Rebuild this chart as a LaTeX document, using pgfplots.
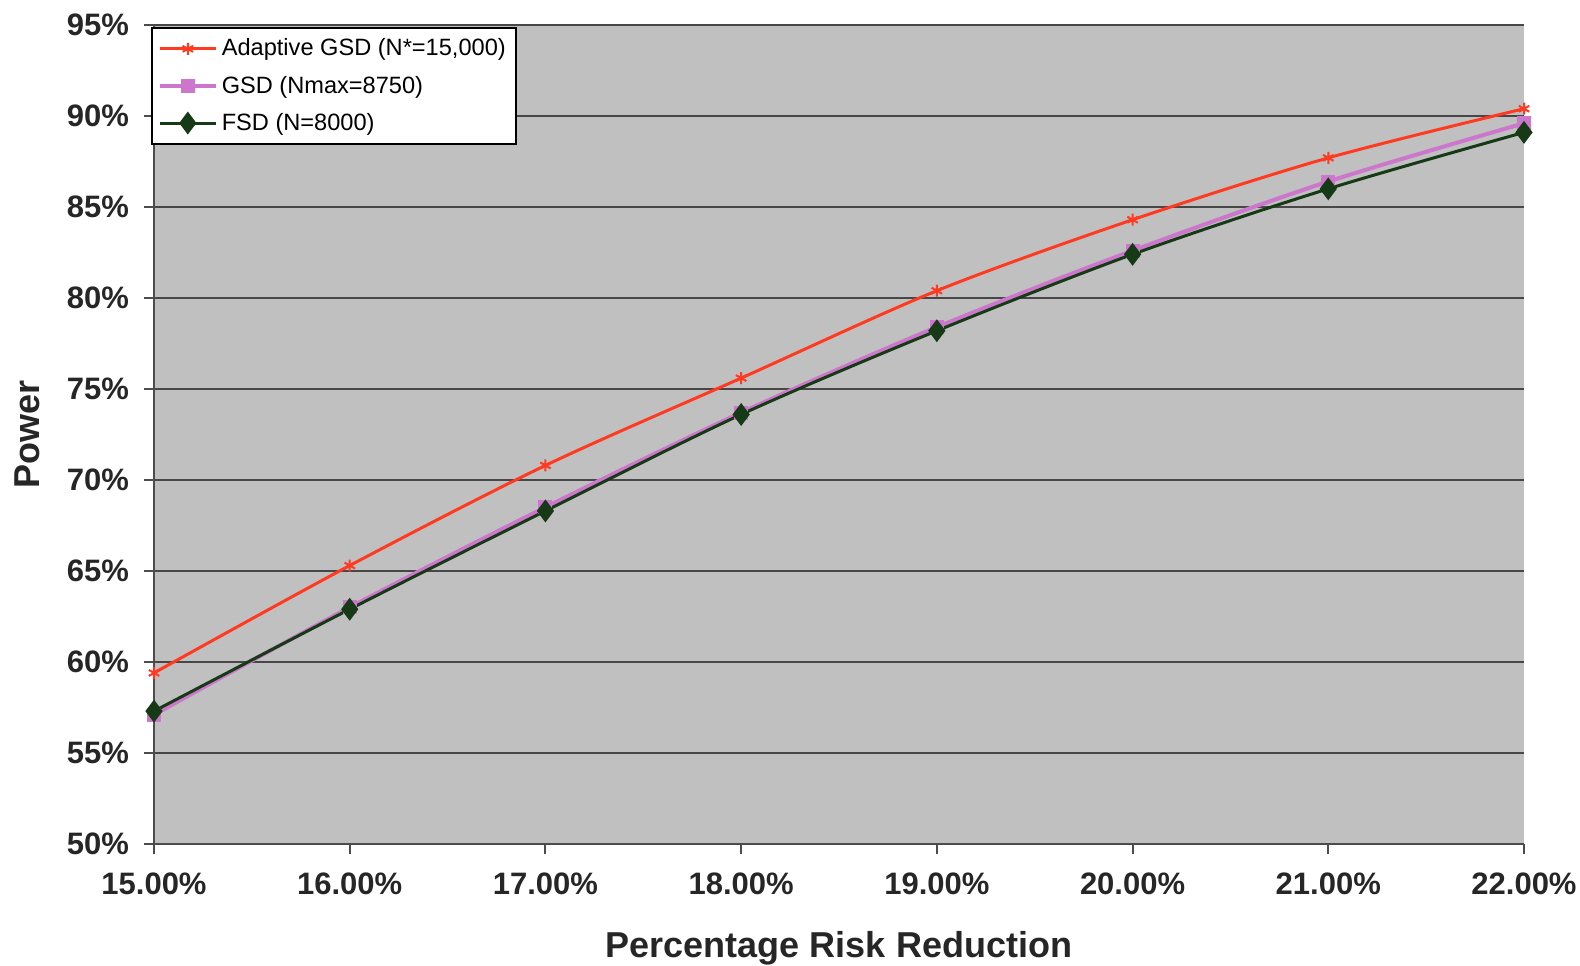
\documentclass[border=0pt]{standalone}
\usepackage{fontspec}
\setmainfont{Liberation Sans}
\usepackage{pgfplots}
\pgfplotsset{compat=1.18}
\definecolor{plotgray}{HTML}{C0C0C0}
\definecolor{adred}{HTML}{FF3A20}
\definecolor{gsdpink}{HTML}{CC77CC}
\definecolor{fsdgreen}{HTML}{163A16}
\begin{document}
\begin{tikzpicture}[x=1pt,y=1pt]
\useasboundingbox (0,0) rectangle (790,482.5);
\begin{axis}[
  at={(77pt,60.5pt)}, anchor=south west,
  scale only axis, width=685pt, height=409.5pt,
  xmin=15, xmax=22, ymin=50, ymax=95,
  xtick={15,16,...,22}, ytick={50,55,...,95},
  /pgf/number format/assume math mode=true,
  xticklabel={\pgfmathprintnumber[fixed,fixed zerofill,precision=2]{\tick}\%},
  yticklabel={\pgfmathprintnumber[fixed,precision=0]{\tick}\%},
  ticklabel style={font=\fontsize{15.5}{18}\selectfont\bfseries, text=black!85},
  xticklabel style={yshift=-6pt},
  yticklabel style={xshift=-4pt},
  axis background/.style={fill=plotgray},
  axis x line*=bottom, axis y line*=left,
  axis line style={line width=1pt, color=black!70, -},
  tick align=outside, major tick length=5pt,
  tick style={line width=1pt, color=black!70},
  ymajorgrids, grid style={line width=1.2pt, color=black!72},
  xlabel={Percentage Risk Reduction},
  ylabel={Power},
  label style={font=\fontsize{18}{21}\selectfont\bfseries, text=black!85},
  xlabel style={at={(axis description cs:0.5,0)}, anchor=center, yshift=-52pt},
  ylabel style={at={(axis description cs:-0.0927,0.5)}, anchor=center},
  legend style={at={(rel axis cs:0,1)}, anchor=north west, xshift=-1.5pt, yshift=-1pt,
    draw=black, line width=0.8pt, fill=white, font=\fontsize{11.8}{14}\selectfont,
    row sep=4.5pt, inner xsep=3pt, inner ysep=3.5pt},
  legend cell align=left,
  legend image code/.code={\draw[#1] (0pt,0pt) -- (14pt,0pt) (28pt,0pt) -- (14pt,0pt); \draw[#1, mark repeat=1] plot coordinates {(14pt,0pt)};},
]
\addplot[adred, line width=1.5pt, smooth, mark=asterisk, mark size=3pt, mark options={line width=1pt}]
  coordinates {(15,59.4) (16,65.3) (17,70.8) (18,75.6) (19,80.4) (20,84.3) (21,87.7) (22,90.4)};
\addlegendentry{Adaptive GSD (N*=15,000)}
\addplot[gsdpink, line width=2pt, smooth, mark=square*, mark size=2.5pt]
  coordinates {(15,57.1) (16,63.0) (17,68.5) (18,73.7) (19,78.4) (20,82.6) (21,86.4) (22,89.6)};
\addlegendentry{GSD (Nmax=8750)}
\addplot[fsdgreen, line width=1.5pt, smooth, mark=diamond*, mark size=4.5pt]
  coordinates {(15,57.3) (16,62.9) (17,68.3) (18,73.6) (19,78.2) (20,82.4) (21,86.0) (22,89.1)};
\addlegendentry{FSD (N=8000)}
\end{axis}
\end{tikzpicture}
\end{document}
